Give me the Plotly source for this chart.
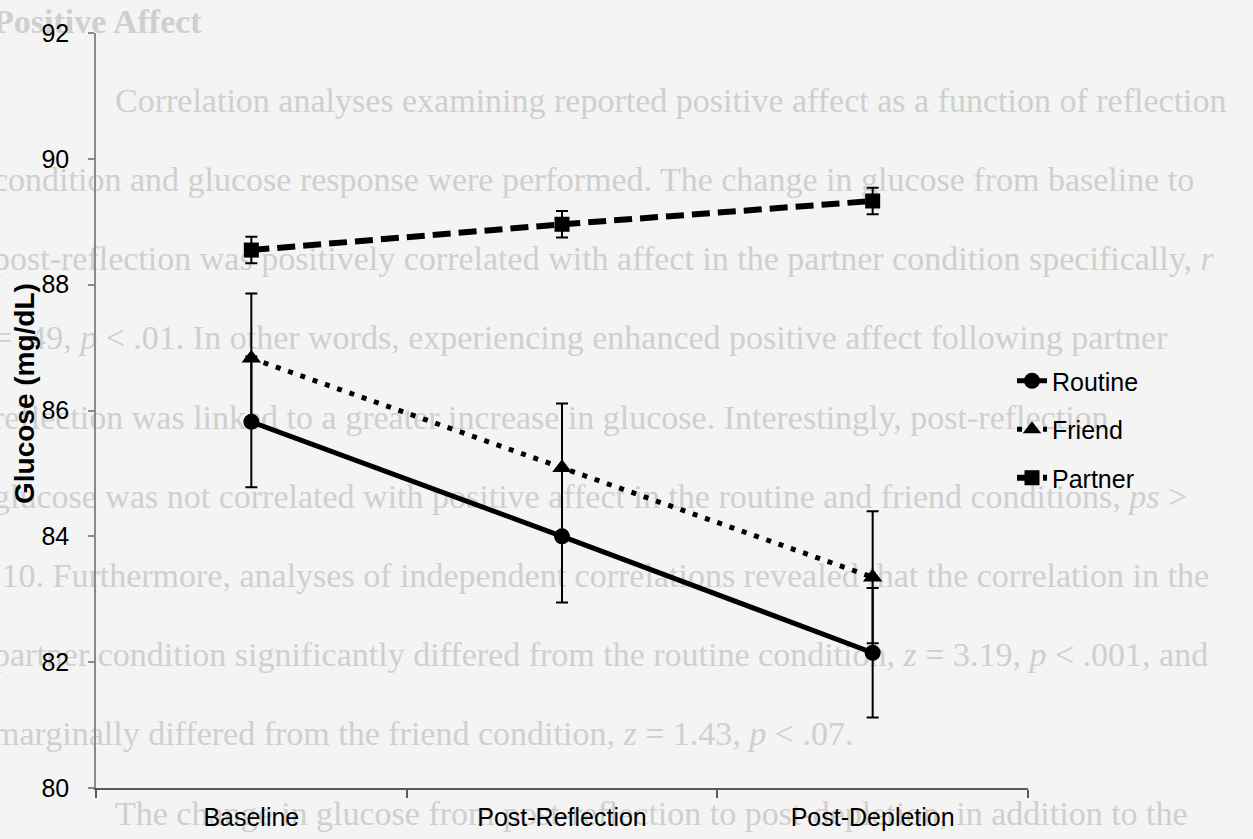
import plotly.graph_objects as go

# ---------------- data ----------------
categories = ["Baseline", "Post-Reflection", "Post-Depletion"]
routine = [85.82, 84.00, 82.15]
routine_err = [1.04, 1.05, 1.03]
friend = [86.83, 85.09, 83.35]
friend_err = [1.03, 1.02, 1.05]
partner = [88.55, 88.96, 89.33]
partner_err = [0.21, 0.21, 0.21]
y_ticks = [80, 82, 84, 86, 88, 90, 92]
y_title = "Glucose (mg/dL)"

# faint page text showing through behind the chart
page_lines = [
    "<b>Positive Affect</b>",
    "Correlation analyses examining reported positive affect as a function of reflection",
    "condition and glucose response were performed. The change in glucose from baseline to",
    "post-reflection was positively correlated with affect in the partner condition specifically, <i>r</i>",
    "= .49, <i>p</i> < .01. In other words, experiencing enhanced positive affect following partner",
    "reflection was linked to a greater increase in glucose. Interestingly, post-reflection",
    "glucose was not correlated with positive affect in the routine and friend conditions, <i>ps</i> >",
    ".10. Furthermore, analyses of independent correlations revealed that the correlation in the",
    "partner condition significantly differed from the routine condition, <i>z</i> = 3.19, <i>p</i> < .001, and",
    "marginally differed from the friend condition, <i>z</i> = 1.43, <i>p</i> < .07.",
    "The change in glucose from post-reflection to post-depletion, in addition to the",
]
page_indent = [False, True, False, False, False, False, False, False, False, False, True]

# ---------------- geometry ----------------
W, H = 1253, 839
ML, MR, MT, MB = 96, 225, 33, 51
PW, PH = W - ML - MR, H - MT - MB


def px(x):
    return (x - ML) / PW


def py(y):
    return (H - MB - y) / PH


FONT = "Liberation Sans, Arial, sans-serif"

fig = go.Figure()

series = [
    ("Routine", routine, routine_err, dict(width=5), "circle", 16),
    ("Friend", friend, friend_err, dict(width=5, dash="5px,8px"), "triangle-up", 17),
    ("Partner", partner, partner_err, dict(width=6, dash="18px,8px"), "square", 15),
]
for name, vals, errs, line, sym, size in series:
    fig.add_trace(go.Scatter(
        x=categories, y=vals, name=name, legendgroup=name,
        mode="lines+markers",
        line=dict(color="black", **line),
        marker=dict(symbol=sym, size=size, color="black"),
        error_y=dict(type="data", array=errs, visible=True,
                     color="black", thickness=2, width=6),
    ))

shapes = []
for i, (txt, ind) in enumerate(zip(page_lines, page_indent)):
    yc = 17 + 79.2 * i
    x0 = 112 if ind else -10
    shapes.append(dict(
        type="rect", xref="paper", yref="paper",
        x0=px(x0), x1=px(1400), y0=py(yc + 25), y1=py(yc - 25),
        line=dict(width=0), fillcolor="rgba(0,0,0,0)", layer="below",
        label=dict(text=txt, textposition="middle left", padding=0,
                   font=dict(family="Liberation Serif, Times New Roman, serif",
                             size=34, color="#cfcfcf")),
    ))

fig.update_layout(
    width=W, height=H,
    margin=dict(l=ML, r=MR, t=MT, b=MB, autoexpand=False),
    paper_bgcolor="#f4f4f4",
    plot_bgcolor="rgba(0,0,0,0)",
    font=dict(family=FONT, color="black", size=25),
    shapes=shapes,
    showlegend=True,
    legend=dict(x=px(1012), y=py(358), xanchor="left", yanchor="top",
                bgcolor="rgba(0,0,0,0)", borderwidth=0,
                font=dict(family=FONT, size=25, color="black"),
                tracegroupgap=13, traceorder="grouped"),
    xaxis=dict(
        type="category", range=[-0.5, 2.5],
        showline=True, linecolor="#5a5a5a", linewidth=2,
        ticks="outside", tickson="boundaries", ticklen=8, tickcolor="#5a5a5a",
        tickwidth=1.5, showgrid=False, zeroline=False,
        tickfont=dict(family=FONT, size=25, color="black"),
        ticklabelstandoff=6, automargin=False,
    ),
    yaxis=dict(
        range=[80, 92], tickvals=y_ticks,
        showline=True, linecolor="#8a8a8a", linewidth=1.5,
        ticks="outside", ticklen=6, tickcolor="#8a8a8a", tickwidth=1.5,
        showgrid=False, zeroline=False,
        tickfont=dict(family=FONT, size=25, color="black"),
        ticklabelstandoff=14, automargin=False,
    ),
    annotations=[dict(
        text="<b>" + y_title + "</b>", textangle=-90,
        xref="paper", yref="paper", x=px(24), y=py(394),
        xanchor="center", yanchor="middle", showarrow=False,
        font=dict(family=FONT, size=28, color="black"),
    )],
)

fig.write_html("out.html",
               config={"displayModeBar": False},
               post_script="document.body.style.margin='0';"
                           "document.body.style.overflow='hidden';")
